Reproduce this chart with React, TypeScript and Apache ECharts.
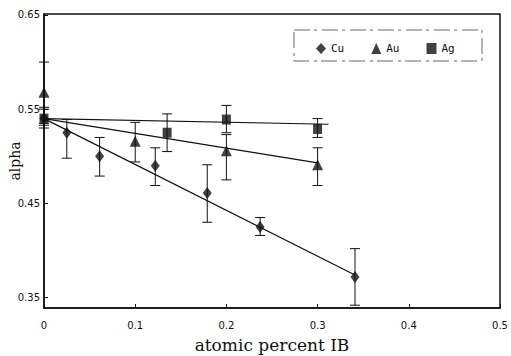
import React, { useEffect, useRef } from "react";
import * as echarts from "echarts";

// Cu (diamonds)
const cuX = [0, 0.025, 0.061, 0.122, 0.179, 0.237, 0.341];
const cuY = [0.54, 0.525, 0.5, 0.49, 0.461, 0.425, 0.372];
const cuLo = [0.53, 0.498, 0.479, 0.469, 0.43, 0.416, 0.342];
const cuHi = [0.55, 0.539, 0.52, 0.509, 0.491, 0.435, 0.402];
const cuFitX = [0, 0.341];
const cuFitY = [0.54, 0.374];

// Au (triangles)
const auX = [0, 0.1, 0.2, 0.3];
const auY = [0.568, 0.516, 0.506, 0.491];
const auLo = [0.535, 0.494, 0.475, 0.469];
const auHi = [0.6, 0.536, 0.523, 0.509];
const auFitX = [0, 0.3];
const auFitY = [0.54, 0.493];

// Ag (squares)
const agX = [0, 0.135, 0.2, 0.3];
const agY = [0.54, 0.525, 0.539, 0.529];
const agLo = [0.533, 0.505, 0.525, 0.52];
const agHi = [0.552, 0.545, 0.554, 0.54];
const agFitX = [0, 0.312];
const agFitY = [0.54, 0.534];

const yTicks = [0.35, 0.45, 0.55, 0.65];
const legendNames = ["Cu", "Au", "Ag"];

const zip2 = (a: number[], b: number[]) => a.map((v, i) => [v, b[i]]);
const zip3 = (a: number[], lo: number[], hi: number[]) => a.map((v, i) => [v, lo[i], hi[i]]);

const errRender = (params: any, api: any) => {
  const x = api.value(0);
  const lo = api.coord([x, api.value(1)]);
  const hi = api.coord([x, api.value(2)]);
  const w = 5;
  const style = { stroke: "#111", lineWidth: 1 };
  return {
    type: "group",
    children: [
      { type: "line", shape: { x1: lo[0], y1: lo[1], x2: hi[0], y2: hi[1] }, style },
      { type: "line", shape: { x1: lo[0] - w, y1: lo[1], x2: lo[0] + w, y2: lo[1] }, style },
      { type: "line", shape: { x1: hi[0] - w, y1: hi[1], x2: hi[0] + w, y2: hi[1] }, style },
    ],
  };
};

export default function App() {
  const ref = useRef<HTMLDivElement>(null);
  useEffect(() => {
    if (!ref.current) return;
    const chart = echarts.init(ref.current, null, { renderer: "svg" });
    const err = (name: string, data: number[][]) => ({
      type: "custom",
      name: name + "err",
      renderItem: errRender,
      data,
      z: 1,
      silent: true,
    });
    const fit = (name: string, xs: number[], ys: number[]) => ({
      type: "line",
      name: name + "fit",
      data: zip2(xs, ys),
      symbol: "none",
      lineStyle: { color: "#111", width: 1.2 },
      z: 2,
    });
    chart.setOption({
      animation: false,
      backgroundColor: "#fff",
      grid: {
        left: 44,
        right: 11,
        top: 14,
        bottom: 48,
        show: true,
        borderColor: "#111",
        borderWidth: 1.5,
        outerBoundsMode: "none",
        containLabel: false,
      },
      legend: {
        data: [
          { name: "Cu", icon: "diamond" },
          { name: "Au", icon: "triangle" },
          { name: "Ag", icon: "rect" },
        ],
        left: 311,
        top: 38,
        itemWidth: 10,
        itemHeight: 11,
        itemGap: 27,
        textStyle: { fontFamily: "DejaVu Sans Mono", fontSize: 11, color: "#111" },
      },
      graphic: [
        {
          type: "rect",
          shape: { x: 294, y: 30, width: 188, height: 31 },
          style: { fill: "none", stroke: "#666", lineWidth: 1, lineDash: [16, 4, 3, 5] },
          z: 10,
        },
      ],
      xAxis: {
        type: "value",
        min: 0,
        max: 0.5,
        interval: 0.1,
        name: "atomic percent IB",
        nameLocation: "middle",
        nameGap: 28,
        nameMoveOverlap: false,
        nameTextStyle: { fontFamily: "DejaVu Serif", fontSize: 17, color: "#111" },
        axisLine: { lineStyle: { color: "#111", width: 1.5 } },
        axisTick: { inside: true, length: 4, lineStyle: { color: "#111" } },
        axisLabel: {
          margin: 12,
          fontFamily: "DejaVu Sans",
          fontSize: 10,
          color: "#111",
          formatter: (v: number) => (v === 0 ? "0" : v.toFixed(1)),
        },
        splitLine: { show: false },
      },
      yAxis: {
        type: "value",
        min: 0.339,
        max: 0.651,
        name: "alpha",
        nameLocation: "middle",
        nameGap: 22,
        nameMoveOverlap: false,
        nameTextStyle: { fontFamily: "DejaVu Serif", fontSize: 14, color: "#111" },
        axisLine: { lineStyle: { color: "#111", width: 1.5 } },
        axisTick: { inside: true, length: 4, customValues: yTicks, lineStyle: { color: "#111" } },
        axisLabel: {
          margin: 4,
          fontFamily: "DejaVu Sans",
          fontSize: 10,
          color: "#111",
          customValues: yTicks,
          formatter: (v: number) => v.toFixed(2),
        },
        splitLine: { show: false },
      },
      series: [
        err("Cu", zip3(cuX, cuLo, cuHi)),
        err("Au", zip3(auX, auLo, auHi)),
        err("Ag", zip3(agX, agLo, agHi)),
        fit("Cu", cuFitX, cuFitY),
        fit("Au", auFitX, auFitY),
        fit("Ag", agFitX, agFitY),
        {
          type: "scatter",
          name: legendNames[0],
          data: zip2(cuX, cuY),
          symbol: "diamond",
          symbolSize: [9, 12],
          itemStyle: { color: "#111" },
          z: 3,
        },
        {
          type: "scatter",
          name: legendNames[1],
          data: zip2(auX, auY),
          symbol: "triangle",
          symbolSize: [11, 11],
          itemStyle: { color: "#111" },
          z: 3,
        },
        {
          type: "scatter",
          name: legendNames[2],
          data: zip2(agX, agY),
          symbol: "rect",
          symbolSize: [9, 10],
          itemStyle: { color: "#111" },
          z: 3,
        },
      ],
    });
    return () => chart.dispose();
  }, []);
  return (
    <div
      ref={ref}
      style={{ width: 511, height: 356, position: "absolute", left: 0, top: 0 }}
    />
  );
}
